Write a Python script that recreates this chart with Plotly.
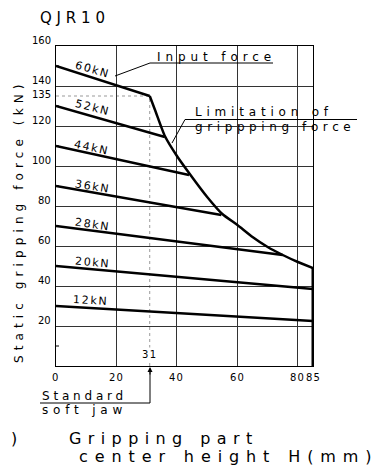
import plotly.graph_objects as go

# ---- data ----
force_labels = ["60kN", "52kN", "44kN", "36kN", "28kN", "20kN", "12kN"]
start_force = [150, 130, 110, 90, 70, 50, 30]      # at H = 0
end_H = [31, 36, 44, 54.7, 75, 85, 85]
end_force = [135, 114.5, 95.5, 75.5, 55.5, 38.5, 22.5]

lim_H = [31, 33, 36, 40, 44, 50, 55, 60, 65, 70, 75, 80, 85]
lim_F = [135, 127, 115, 105, 96.5, 84.5, 76, 70.5, 64.5, 59.5, 55.5, 52, 49]
H_max = 85

x_ticks = [0, 20, 40, 60, 80, 85]
y_ticks = [20, 40, 60, 80, 100, 120, 140, 160]
y_minor = [10, 30, 50, 70, 90, 110, 130, 150]
std_H = 31
max_F = 135

FONT = "DejaVu Sans"

# page offset (browser body margin) and plot-area pixel geometry in screen pixels
OFF = 8
L, R, T, B = 56, 313, 46, 366
W, H = R - L, B - T
FIG_W, FIG_H = 380 - OFF, 472 - OFF


def px(x):
    return (x - L) / W


def py(y):
    return (B - y) / H


def sp(text, ls):
    return f'<span style="letter-spacing:{ls}px">{text}</span>'


fig = go.Figure()

for i in range(len(force_labels)):
    fig.add_trace(go.Scatter(
        x=[0, end_H[i]], y=[start_force[i], end_force[i]], mode="lines",
        line=dict(color="black", width=2.5), hoverinfo="skip", showlegend=False))

fig.add_trace(go.Scatter(
    x=lim_H, y=lim_F, mode="lines",
    line=dict(color="black", width=2.5, shape="spline", smoothing=0.5),
    hoverinfo="skip", showlegend=False))
fig.add_trace(go.Scatter(
    x=[H_max, H_max], y=[lim_F[-1], 0], mode="lines",
    line=dict(color="black", width=3), hoverinfo="skip", showlegend=False))

shapes = []
# dotted reference lines
shapes.append(dict(type="line", xref="x", yref="y", x0=std_H, x1=std_H, y0=0, y1=max_F,
                   line=dict(color="#999", width=1, dash="dot"), layer="below"))
shapes.append(dict(type="line", xref="x", yref="y", x0=0, x1=std_H, y0=max_F, y1=max_F,
                   line=dict(color="#999", width=1, dash="dot"), layer="below"))
# minor ticks on the y axis (inside)
for v in y_minor:
    shapes.append(dict(type="line", xref="paper", yref="y", x0=0, x1=3 / W, y0=v, y1=v,
                       line=dict(color="black", width=1)))
# Input force leader + underline
shapes.append(dict(type="path", xref="paper", yref="paper",
                   path=f"M {px(115)},{py(76)} L {px(150)},{py(63)} L {px(273)},{py(63)}",
                   line=dict(color="black", width=1)))
# Limitation leader + underline
shapes.append(dict(type="path", xref="paper", yref="paper",
                   path=f"M {px(172)},{py(143)} L {px(185)},{py(119.5)} L {px(357)},{py(119.5)}",
                   line=dict(color="black", width=1)))
# Standard soft jaw leader
shapes.append(dict(type="path", xref="paper", yref="paper",
                   path=f"M {px(40)},{py(403)} L {px(150)},{py(403)} L {px(150)},{py(369)}",
                   line=dict(color="black", width=1)))
fig.update_layout(shapes=shapes)

ann = []
# arrow head for standard soft jaw
ann.append(dict(x=px(150), y=py(367), ax=0, ay=9, xref="paper", yref="paper",
                axref="pixel", ayref="pixel", showarrow=True, arrowhead=2, arrowsize=1,
                arrowwidth=1, arrowcolor="black", text=""))

label_pos = [(92, 69, 16), (92, 107, 14), (91, 147, 12), (92, 186, 9),
             (92, 224, 8), (92.5, 262, 5), (90, 300, 3)]
for lab, (x, y, a) in zip(force_labels, label_pos):
    ann.append(dict(x=px(x), y=py(y), xref="paper", yref="paper", showarrow=False,
                    xanchor="center", yanchor="middle",
                    text=sp(lab, 1.7), textangle=a,
                    font=dict(family=FONT, size=11, color="black")))


def txt(x, y, text, size, ls, xanchor="left", angle=0):
    ann.append(dict(x=px(x), y=py(y), xref="paper", yref="paper", showarrow=False,
                    text=sp(text, ls), xanchor=xanchor, yanchor="middle", textangle=angle,
                    font=dict(family=FONT, size=size, color="black")))


txt(38, 18, "QJR10", 15, 4.8)
txt(155, 57, "Input force", 12, 4.9)
txt(193, 112.5, "Limitation of", 12, 4.8)
txt(193, 127, "grippping force", 12, 4.6)
txt(40, 396, "Standard", 12, 3.8)
txt(40, 410, "soft jaw", 12, 4.8)
txt(67, 438, "Gripping part", 16, 6.4)
txt(77, 456, "center height H(mm)", 16, 6.9)
txt(OFF + 1, 438, ")", 16, 0)
txt(19, 221, "Static gripping force (kN)", 12, 5.1, xanchor="center", angle=-90)
# 135 label and 31 label
txt(53, 95, "135", 10, 0, xanchor="right")
ann.append(dict(x=std_H, y=6, xref="x", yref="y", showarrow=False, text=sp("31", 1.5),
                xanchor="center", yanchor="middle",
                bgcolor="white", font=dict(family=FONT, size=10, color="black")))
# x tick labels
for v in x_ticks:
    ann.append(dict(x=v, y=py(377), xref="x", yref="paper", showarrow=False,
                    xanchor="center", yanchor="middle",
                    text=sp(str(v), 1.2), font=dict(family=FONT, size=10, color="black")))
# y tick labels (sitting on their gridlines)
for v in y_ticks:
    ann.append(dict(x=px(53), y=v, xref="paper", yref="y", showarrow=False, xanchor="right",
                    yanchor="bottom", yshift=-2, text=sp(str(v), 0),
                    font=dict(family=FONT, size=10, color="black")))
fig.update_layout(annotations=ann)

grid = "#333"
fig.update_xaxes(range=[0, 85], tickmode="array", tickvals=x_ticks, showticklabels=False,
                 ticks="", showgrid=True, gridcolor=grid, gridwidth=1, zeroline=False,
                 showline=True, linecolor="black", linewidth=1, mirror=True)
fig.update_yaxes(range=[0, 160], tickmode="array", tickvals=y_ticks, showticklabels=False,
                 ticks="", showgrid=True, gridcolor=grid, gridwidth=1, zeroline=False,
                 showline=True, linecolor="black", linewidth=1, mirror=True)

fig.update_layout(width=FIG_W, height=FIG_H, paper_bgcolor="white", plot_bgcolor="white",
                  margin=dict(l=L - OFF, r=380 - R, t=T - OFF, b=472 - B), showlegend=False,
                  font=dict(family=FONT, color="black"))

fig.write_html("out.html")
